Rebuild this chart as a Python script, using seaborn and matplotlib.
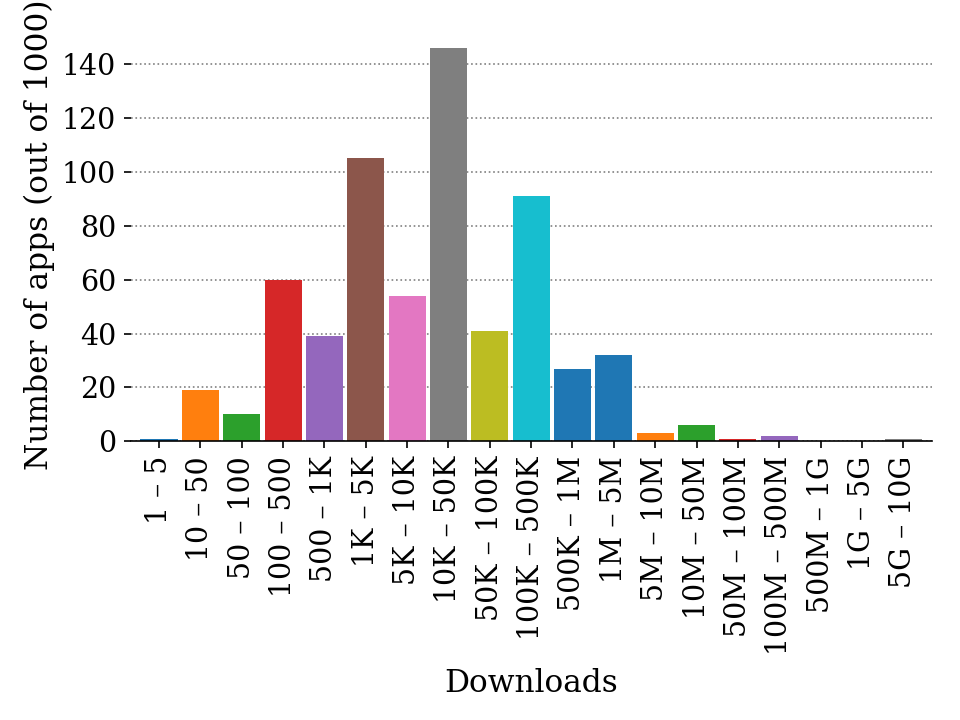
import matplotlib
matplotlib.use('Agg')
import matplotlib.pyplot as plt
import seaborn as sns
import pandas as pd

# Faixas de downloads e numero de apps (de 1000)
categories = ['1 – 5', '10 – 50', '50 – 100', '100 – 500', '500 – 1K',
              '1K – 5K', '5K – 10K', '10K – 50K', '50K – 100K', '100K – 500K',
              '500K – 1M', '1M – 5M', '5M – 10M', '10M – 50M', '50M – 100M',
              '100M – 500M', '500M – 1G', '1G – 5G', '5G – 10G']
counts = [1, 19, 10, 60, 39, 105, 54, 146, 41, 91,
          27, 32, 3, 6, 1, 2, 0, 0, 1]
yticks = [0, 20, 40, 60, 80, 100, 120, 140]

tab = sns.color_palette('tab10')
bar_colors = tab[:10] + [tab[0]] + tab[:8]


def plot_downloads():
    sns.set_style('white')
    plt.rcParams['font.family'] = ['DejaVu Serif']
    plt.rcParams['text.color'] = 'black'
    plt.rcParams['axes.labelcolor'] = 'black'
    plt.rcParams['xtick.color'] = 'black'
    plt.rcParams['ytick.color'] = 'black'

    df = pd.DataFrame({'Downloads': categories, 'Apps': counts})

    fig, ax = plt.subplots(figsize=(6.4, 4.8), dpi=150)
    sns.barplot(data=df, x='Downloads', y='Apps', hue='Downloads',
                palette=bar_colors, legend=False, width=0.9,
                saturation=1, linewidth=0, ax=ax)

    ax.set_xlim(-0.69, len(categories) - 0.3)
    ax.set_ylim(0, 153)
    ax.set_yticks(yticks)
    ax.yaxis.grid(True, linestyle=':', color='gray', linewidth=0.8)
    ax.set_axisbelow(True)
    for s in ['top', 'right', 'left']:
        ax.spines[s].set_visible(False)
    ax.spines['bottom'].set_color('black')
    ax.spines['bottom'].set_linewidth(0.8)

    ax.tick_params(axis='both', which='both', length=3.5, width=0.8,
                   labelsize=13.7, bottom=True, left=True)
    ax.tick_params(axis='x', labelrotation=90)
    ax.set_xlabel('Downloads', fontsize=15, labelpad=6)
    ax.set_ylabel('Number of apps (out of 1000)', fontsize=15, labelpad=3)

    fig.subplots_adjust(left=0.136, right=0.971, bottom=0.387, top=0.96)
    fig.savefig('out.png', dpi=150)


if __name__ == '__main__':
    plot_downloads()
